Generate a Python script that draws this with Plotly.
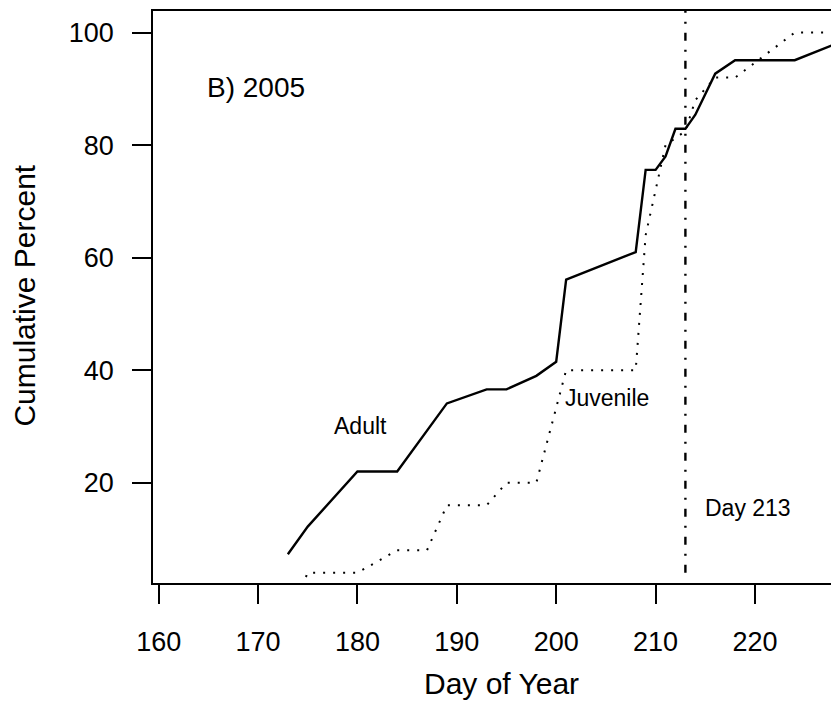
import plotly.graph_objects as go

# Data
adult_day = [173, 175, 180, 184, 189, 193, 195, 198, 200, 201, 208, 209, 210, 211, 212, 213, 214, 216, 218, 224, 228]
adult_pct = [7.3, 12.2, 22.0, 22.0, 34.1, 36.6, 36.6, 39.0, 41.5, 56.1, 61.0, 75.6, 75.6, 78.0, 82.9, 82.9, 85.4, 92.7, 95.1, 95.1, 97.9]

juv_day = [174, 175, 180, 184, 187, 189, 193, 195, 198, 201, 208, 209, 210, 211, 213, 214, 216, 218, 224, 228]
juv_pct = [0, 4, 4, 8, 8, 16, 16, 20, 20, 40, 40, 64, 72, 80, 82.5, 88, 92, 92, 100, 100]

x_ticks = [160, 170, 180, 190, 200, 210, 220]
y_ticks = [20, 40, 60, 80, 100]
cutoff_day = 213

FONT = "Liberation Sans, Arial, Helvetica, sans-serif"

fig = go.Figure()
fig.add_trace(go.Scatter(x=adult_day, y=adult_pct, mode="lines",
                         line=dict(color="black", width=2.4), showlegend=False))
fig.add_trace(go.Scatter(x=juv_day, y=juv_pct, mode="lines",
                         line=dict(color="black", width=2, dash="2px,8px"), showlegend=False))

fig.add_shape(type="line", x0=cutoff_day, x1=cutoff_day, y0=4, y1=103.84,
              xref="x", yref="y", line=dict(color="black", width=2.4, dash="8px,9px,2px,9px"))

ann_font = dict(family=FONT, size=23, color="black")
fig.add_annotation(x=164.63, y=90.3, text="B) 2005", showarrow=False, xanchor="left", yanchor="middle",
                   font=dict(family=FONT, size=28, color="black"))
fig.add_annotation(x=177.4, y=30.0, text="Adult", showarrow=False, xanchor="left", yanchor="middle", font=ann_font)
fig.add_annotation(x=200.67, y=35.0, text="Juvenile", showarrow=False, xanchor="left", yanchor="middle", font=ann_font)
fig.add_annotation(x=214.8, y=15.5, text="Day 213", showarrow=False, xanchor="left", yanchor="middle", font=ann_font)

title_font = dict(family=FONT, size=30, color="black")
fig.add_annotation(xref="paper", yref="paper", x=0.5133, y=-0.1765, text="Day of Year", showarrow=False,
                   xanchor="center", yanchor="middle", font=title_font)
fig.add_annotation(xref="paper", yref="paper", x=-0.1888, y=0.5024, text="Cumulative Percent", showarrow=False,
                   xanchor="center", yanchor="middle", textangle=-90, font=title_font)

tick_font = dict(family=FONT, size=27, color="black")
fig.update_xaxes(range=[159.43, 227.65], tickvals=x_ticks, ticktext=[str(v) for v in x_ticks],
                 ticks="outside", ticklen=19, tickwidth=1.5, tickcolor="black",
                 showline=True, linecolor="black", linewidth=1.8, mirror=True,
                 showgrid=False, zeroline=False, tickfont=tick_font, ticklabelstandoff=15)
fig.update_yaxes(range=[2.18, 103.84], tickvals=y_ticks, ticktext=[str(v) for v in y_ticks],
                 ticks="outside", ticklen=19, tickwidth=1.5, tickcolor="black",
                 showline=True, linecolor="black", linewidth=1.8, mirror=False,
                 showgrid=False, zeroline=False, tickfont=tick_font, ticklabelstandoff=13)

fig.update_layout(width=831, height=705, margin=dict(l=153, r=0, t=11, b=122),
                  plot_bgcolor="white", paper_bgcolor="white", showlegend=False)

fig.write_html("out.html")
